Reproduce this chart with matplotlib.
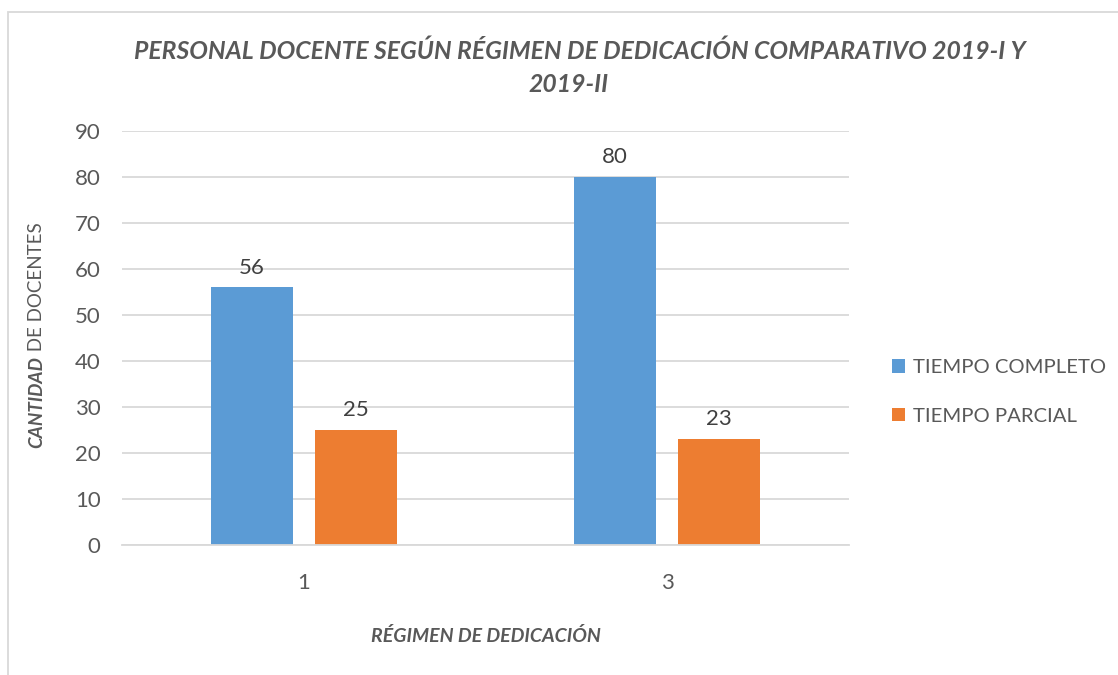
import matplotlib
matplotlib.use("Agg")
import matplotlib.pyplot as plt
from matplotlib.patches import Rectangle
import numpy as np

categories = ["1", "3"]
series_names = ["TIEMPO COMPLETO", "TIEMPO PARCIAL"]
tiempo_completo = [56, 80]
tiempo_parcial = [25, 23]
yticks = [0, 10, 20, 30, 40, 50, 60, 70, 80, 90]
title_lines = ["PERSONAL DOCENTE SEGÚN RÉGIMEN DE DEDICACIÓN COMPARATIVO 2019-I Y", "2019-II"]

plt.rcParams['font.family'] = ['Lato', 'DejaVu Sans']
TXT = '#595959'
GRID = '#d9d9d9'
BLUE = '#5B9BD5'
ORANGE = '#ED7D31'

fig = plt.figure(figsize=(11.18, 6.75), dpi=100)
fig.patches.append(Rectangle((8/1118, -0.05), 1.2, 1 - 12/675 + 0.05, transform=fig.transFigure,
                             fill=False, edgecolor=GRID, linewidth=1.3, zorder=0))

ax = fig.add_axes([122/1118, 1 - 545/675, (849 - 122)/1118, (545 - 131)/675])
x = np.arange(len(categories))
w = 0.2256
off = 0.143
b1 = ax.bar(x - off, tiempo_completo, w, color=BLUE, label=series_names[0], zorder=3)
b2 = ax.bar(x + off, tiempo_parcial, w, color=ORANGE, label=series_names[1], zorder=3)
for bars in (b1, b2):
    ax.bar_label(bars, padding=7, fontsize=16, color='#404040')

ax.set_xlim(-0.5, len(categories) - 0.5)
ax.set_ylim(0, 90)
ax.set_yticks(yticks)
ax.set_xticks(x)
ax.set_xticklabels(categories)
ax.tick_params(axis='both', length=0, colors=TXT, labelsize=16)
ax.tick_params(axis='y', pad=15.5)
ax.tick_params(axis='x', pad=20)
ax.grid(axis='y', color=GRID, linewidth=1.3, zorder=0)
for s in ['top', 'right', 'left']:
    ax.spines[s].set_visible(False)
ax.spines['bottom'].set_color(GRID)
ax.spines['bottom'].set_linewidth(1.3)
ax.spines['bottom'].set_zorder(4)

fig.text(580/1118, 1 - 51/675, title_lines[0], ha='center', va='center', fontsize=17.8,
         fontweight='bold', fontstyle='italic', color=TXT)
fig.text(569/1118, 1 - 85/675, title_lines[1], ha='center', va='center', fontsize=17.8,
         fontweight='bold', fontstyle='italic', color=TXT)

fig.text(486/1118, 1 - 636/675, "RÉGIMEN DE DEDICACIÓN", ha='center', va='center',
         fontsize=14, fontweight='bold', fontstyle='italic', color=TXT)

t1 = fig.text(37/1118, 1 - 402/675, "CANTIDAD", rotation=90, ha='center', va='center',
              fontsize=13.5, fontweight='bold', fontstyle='italic', color=TXT)
ax.annotate(" DE DOCENTES", xy=(0.5, 1), xycoords=t1, rotation=90, ha='center', va='bottom',
            fontsize=13.5, color=TXT, annotation_clip=False)

leg = fig.legend(handles=[b1, b2], labels=series_names, loc='center left',
                 bbox_to_anchor=(884/1118, 1 - 392/675), frameon=False, fontsize=14.6,
                 labelcolor=TXT, handlelength=0.65, handleheight=0.65, handletextpad=0.4,
                 labelspacing=1.55, borderaxespad=0)

fig.savefig("out.png", dpi=100)
